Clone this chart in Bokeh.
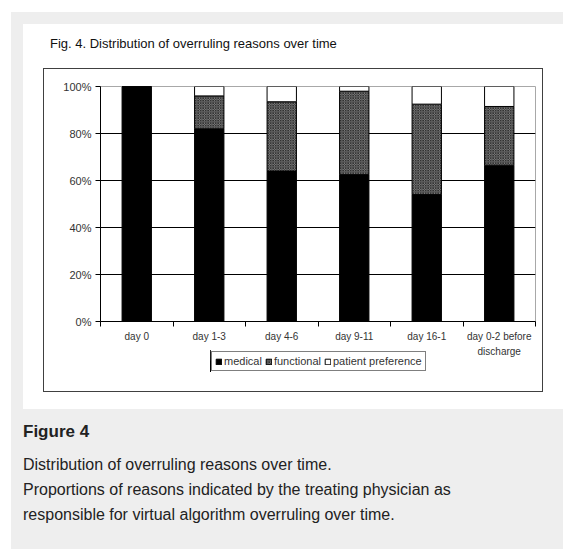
from bokeh.plotting import figure
from bokeh.models import (ColumnDataSource, Range1d, FixedTicker, Legend,
                          LegendItem, Div, Column)
from bokeh.transform import stack
from bokeh.embed import file_html
from bokeh.resources import INLINE

# ---------------- data ----------------
categories = ["day 0", "day 1-3", "day 4-6", "day 9-11", "day 16-1",
              "day 0-2 before\ndischarge"]
medical = [100, 82, 64, 62.5, 54, 66.5]
functional = [0, 14, 29.5, 35.5, 38.5, 25]
patient = [0, 4, 6.5, 2, 7.5, 8.5]
series_labels = ["medical", "functional", "patient preference"]
y_ticks = [0, 20, 40, 60, 80, 100]
y_tick_labels = ["0%", "20%", "40%", "60%", "80%", "100%"]
chart_title = "Fig. 4. Distribution of overruling reasons over time"
caption_head = "Figure 4"
caption_lines = ["Distribution of overruling reasons over time.",
                 "Proportions of reasons indicated by the treating physician as",
                 "responsible for virtual algorithm overruling over time."]

FONT = "Liberation Sans"
n = len(categories)
centers = [i + 0.5 for i in range(n)]
bounds = [float(i) for i in range(n + 1)]

# bar styles (shared by chart and legend swatches)
med_style = dict(fill_color="black", line_color="black")
fun_style = dict(fill_color="#969696", line_color="black",
                 hatch_pattern="diagonal_cross", hatch_scale=2.5,
                 hatch_color="#303030", hatch_weight=1)
pat_style = dict(fill_color="white", line_color="black")

source = ColumnDataSource(dict(x=centers, medical=medical,
                               functional=functional, patient=patient))


def add_bars(fig, bw):
    r1 = fig.vbar(x="x", width=bw, bottom=stack(), top=stack("medical"),
                  source=source, **med_style)
    r2 = fig.vbar(x="x", width=bw, bottom=stack("medical"),
                  top=stack("medical", "functional"), source=source, **fun_style)
    r3 = fig.vbar(x="x", width=bw, bottom=stack("medical", "functional"),
                  top=stack("medical", "functional", "patient"), source=source,
                  **pat_style)
    return r1, r2, r3


# ---------------- main chart ----------------
LEFT, RIGHT = 56, 7
p = figure(width=498, height=322, x_range=Range1d(0, n), y_range=Range1d(0, 100),
           output_backend="svg", toolbar_location=None,
           min_border_left=LEFT, min_border_right=RIGHT,
           min_border_top=17, min_border_bottom=70,
           margin=(17, 0, 0, 21),
           styles={"outline": "1px solid #404040"})
p.border_fill_color = "white"
p.background_fill_color = "white"
p.outline_line_color = "#a8a8a8"

p.xgrid.visible = False
p.ygrid.ticker = FixedTicker(ticks=y_ticks[1:-1])
p.ygrid.grid_line_color = "black"

ya = p.yaxis[0]
ya.ticker = FixedTicker(ticks=y_ticks)
ya.major_label_overrides = dict(zip(y_ticks, y_tick_labels))
ya.major_tick_in = 0
ya.major_tick_out = 5
ya.major_tick_line_color = "black"
ya.minor_tick_line_color = None
ya.axis_line_color = "black"
ya.major_label_standoff = 4
ya.major_label_text_font = FONT
ya.major_label_text_font_size = "11px"
ya.major_label_text_color = "#333333"

xa = p.xaxis[0]
xa.ticker = FixedTicker(ticks=centers, minor_ticks=bounds)
xa.major_label_overrides = dict(zip(centers, categories))
xa.major_tick_in = 0
xa.major_tick_out = 5
xa.major_tick_line_color = None
xa.minor_tick_in = 0
xa.minor_tick_out = 5
xa.minor_tick_line_color = "black"
xa.axis_line_color = "black"
xa.major_label_standoff = 4
xa.major_label_text_font = FONT
xa.major_label_text_font_size = "10px"
xa.major_label_text_line_height = 1.4
xa.major_label_text_color = "#333333"

add_bars(p, 0.405)

# ---------------- legend (own transparent figure, overlapping the chart) ----
# frames of plots in one column are aligned, so this figure's frame starts
# LEFT px inside it; the margin below accounts for that.
lg = figure(width=LEFT + 230 + RIGHT, height=22, output_backend="svg",
            toolbar_location=None, x_axis_location=None, y_axis_location=None,
            x_range=Range1d(100, 101), y_range=Range1d(0, 100),
            min_border_left=LEFT, min_border_right=RIGHT,
            min_border_top=0, min_border_bottom=0,
            margin=(-41, 0, 0, 187 - LEFT))
lg.border_fill_alpha = 0
lg.background_fill_alpha = 0
lg.outline_line_color = None
lg.grid.visible = False
s1, s2, s3 = add_bars(lg, 0.405)   # out of view: only feed the legend swatches
legend = Legend(items=[LegendItem(label=series_labels[0], renderers=[s1]),
                       LegendItem(label=series_labels[1], renderers=[s2]),
                       LegendItem(label=series_labels[2], renderers=[s3])],
                orientation="horizontal", location="top_left",
                border_line_color="black", border_line_width=1,
                background_fill_color="white", background_fill_alpha=1,
                glyph_width=7, glyph_height=7, label_height=12,
                label_standoff=2, spacing=3, padding=3, margin=1,
                label_text_font=FONT, label_text_font_size="11px",
                label_text_color="#333333")
lg.add_layout(legend)

# ---------------- surrounding page ----------------
title_div = Div(text=chart_title, width=480, height=16, margin=(12, 0, 0, 27),
                styles={"font-family": FONT, "font-size": "13px",
                        "line-height": "16px", "color": "#111111"})

white = Column(children=[title_div, p, lg], width=540, height=385,
               margin=(12, 0, 0, 12), spacing=0,
               styles={"background-color": "white"})

cap_html = ("<div style='font-weight:bold;font-size:17px;line-height:20px;'>%s</div>"
            "<div style='font-size:16px;line-height:25px;margin-top:10px;'>%s</div>"
            % (caption_head, "<br>".join(caption_lines)))
caption = Div(text=cap_html, width=525, height=127, margin=(13, 0, 0, 12),
              styles={"font-family": FONT, "color": "#222222"})

gray = Column(children=[white, caption], width=552, height=537,
              margin=(12, 0, 0, 11), spacing=0,
              styles={"background-color": "#eeeeee"})

root = Column(children=[gray], width=563, height=549, spacing=0)

open("out.html", "w").write(file_html(root, INLINE))
